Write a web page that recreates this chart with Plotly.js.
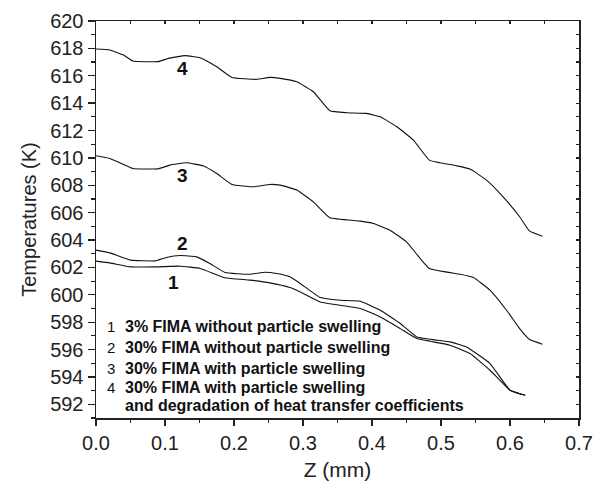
<!DOCTYPE html>
<html>
<head>
<meta charset="utf-8">
<script src="https://cdn.plot.ly/plotly-3.0.1.min.js"></script>
<style>
  html, body { margin: 0; padding: 0; background: #fff; }
  #chart { width: 594px; height: 485px; }
</style>
</head>
<body>
<div id="chart"></div>
<script>
// Axial temperature profiles, Z (mm) vs temperature (K)
const z1 = [0, 0.02, 0.05, 0.088, 0.122, 0.151, 0.187, 0.223, 0.252, 0.281, 0.296, 0.325, 0.383, 0.412, 0.441, 0.465, 0.513, 0.542, 0.571, 0.6, 0.622];
const t1 = [602.46, 602.33, 602.04, 602.04, 602.09, 601.92, 601.24, 601.07, 600.87, 600.53, 600.21, 599.48, 599.0, 598.38, 597.53, 596.8, 596.32, 595.71, 594.49, 593.03, 592.66];

const z2 = [0, 0.02, 0.05, 0.086, 0.102, 0.122, 0.146, 0.165, 0.187, 0.223, 0.245, 0.262, 0.281, 0.296, 0.325, 0.354, 0.383, 0.412, 0.441, 0.465, 0.513, 0.537, 0.571, 0.6, 0.622];
const t2 = [603.26, 603.06, 602.53, 602.48, 602.73, 602.87, 602.77, 602.29, 601.63, 601.5, 601.65, 601.55, 601.31, 600.83, 599.8, 599.6, 599.53, 598.87, 597.9, 596.92, 596.56, 596.19, 594.98, 593.03, 592.66];

const z3 = [0, 0.02, 0.04, 0.053, 0.09, 0.107, 0.131, 0.155, 0.175, 0.197, 0.228, 0.252, 0.267, 0.291, 0.315, 0.339, 0.383, 0.402, 0.426, 0.45, 0.483, 0.528, 0.547, 0.571, 0.595, 0.614, 0.628, 0.647];
const t3 = [610.16, 609.96, 609.52, 609.23, 609.2, 609.47, 609.64, 609.42, 608.86, 608.06, 607.89, 608.06, 608.01, 607.65, 606.79, 605.62, 605.38, 605.21, 604.72, 603.87, 601.92, 601.5, 601.26, 600.34, 598.87, 597.53, 596.75, 596.39];

const z4 = [0, 0.02, 0.04, 0.053, 0.09, 0.105, 0.129, 0.151, 0.175, 0.197, 0.233, 0.252, 0.267, 0.291, 0.315, 0.339, 0.363, 0.392, 0.412, 0.436, 0.46, 0.483, 0.499, 0.523, 0.542, 0.566, 0.59, 0.614, 0.628, 0.647];
const t4 = [617.95, 617.88, 617.51, 617.08, 617.03, 617.27, 617.47, 617.32, 616.66, 615.88, 615.74, 615.88, 615.81, 615.56, 614.83, 613.44, 613.3, 613.25, 613.0, 612.27, 611.3, 609.84, 609.64, 609.42, 609.18, 608.38, 607.16, 605.7, 604.67, 604.28];

// Curve number labels
const curveIds = ['1', '2', '3', '4'];
const curveLabelZ = [0.112, 0.126, 0.126, 0.126];
const curveLabelT = [600.92, 603.77, 608.74, 616.56];

// Key text
const keyNums = ['1', '2', '3', '4', ''];
const keyTexts = [
  '3% FIMA without particle swelling',
  '30% FIMA without particle swelling',
  '30% FIMA with particle swelling',
  '30% FIMA with particle swelling',
  'and degradation of heat transfer coefficients'
];
const keyT = [597.7, 596.17, 594.63, 593.25, 591.93];

const xTicks = [0.0, 0.1, 0.2, 0.3, 0.4, 0.5, 0.6, 0.7];
const xTickText = ['0.0', '0.1', '0.2', '0.3', '0.4', '0.5', '0.6', '0.7'];
const yTicks = [592, 594, 596, 598, 600, 602, 604, 606, 608, 610, 612, 614, 616, 618, 620];

const FONT = 'Liberation Sans, Arial, sans-serif';

const series = [[z1, t1], [z2, t2], [z3, t3], [z4, t4]];
const traces = series.map(([x, y]) => ({
  x: x, y: y, type: 'scatter', mode: 'lines',
  line: { color: '#111', width: 1.1, shape: 'spline', smoothing: 0.35 },
  hoverinfo: 'skip', showlegend: false
}));

const annotations = [];
curveIds.forEach((id, i) => annotations.push({
  x: curveLabelZ[i], y: curveLabelT[i], text: '<b>' + id + '</b>',
  showarrow: false, xanchor: 'center', yanchor: 'middle',
  font: { family: FONT, size: 19, color: '#111' }
}));
keyTexts.forEach((txt, i) => {
  if (keyNums[i]) annotations.push({
    x: 0.0135, y: keyT[i], text: keyNums[i], showarrow: false,
    xanchor: 'left', yanchor: 'middle',
    font: { family: FONT, size: 15, color: '#111' }
  });
  annotations.push({
    x: 0.0385, y: keyT[i], text: '<b>' + txt + '</b>', showarrow: false,
    xanchor: 'left', yanchor: 'middle',
    font: { family: FONT, size: 16, color: '#111' }
  });
});

const layout = {
  width: 594, height: 485,
  margin: { l: 96, r: 15, t: 21, b: 67 },
  paper_bgcolor: '#fff', plot_bgcolor: '#fff',
  showlegend: false,
  font: { family: FONT, color: '#222' },
  xaxis: {
    range: [0, 0.7], tickvals: xTicks, ticktext: xTickText,
    ticks: 'outside', ticklen: 6, tickwidth: 1.3, tickcolor: '#222',
    minor: { dtick: 0.05, ticks: 'outside', ticklen: 3, tickwidth: 1.2, tickcolor: '#222' },
    showline: true, linecolor: '#222', linewidth: 1.5,
    showgrid: false, zeroline: false,
    tickfont: { family: FONT, size: 20, color: '#222' },
    title: { text: 'Z (mm)', font: { family: FONT, size: 21, color: '#222' }, standoff: 10 }
  },
  yaxis: {
    range: [591, 620], tickvals: yTicks,
    ticks: 'outside', ticklen: 7, tickwidth: 1.3, tickcolor: '#222',
    minor: { dtick: 1, ticks: 'outside', ticklen: 4, tickwidth: 1.2, tickcolor: '#222' },
    showline: true, linecolor: '#222', linewidth: 1.5,
    showgrid: false, zeroline: false,
    tickfont: { family: FONT, size: 20, color: '#222' },
    title: { text: 'Temperatures (K)', font: { family: FONT, size: 20, color: '#222' }, standoff: 8 }
  },
  xaxis2: {
    overlaying: 'x', side: 'top', range: [0, 0.7], dtick: 0.05, tick0: 0,
    ticks: 'inside', ticklen: 3, tickwidth: 1.2, tickcolor: '#222',
    showticklabels: false, showline: true, linecolor: '#222', linewidth: 1.5,
    showgrid: false, zeroline: false
  },
  yaxis2: {
    overlaying: 'y', side: 'right', range: [591, 620], dtick: 1, tick0: 0,
    ticks: 'inside', ticklen: 3, tickwidth: 1.2, tickcolor: '#222',
    showticklabels: false, showline: true, linecolor: '#222', linewidth: 1.5,
    showgrid: false, zeroline: false
  },
  annotations: annotations
};

// invisible trace so the mirrored frame axes are drawn
traces.push({ x: [0], y: [600], xaxis: 'x2', yaxis: 'y2', type: 'scatter', mode: 'markers',
  marker: { opacity: 0 }, hoverinfo: 'skip', showlegend: false });

Plotly.newPlot('chart', traces, layout, { displayModeBar: false, staticPlot: true });
</script>
</body>
</html>
